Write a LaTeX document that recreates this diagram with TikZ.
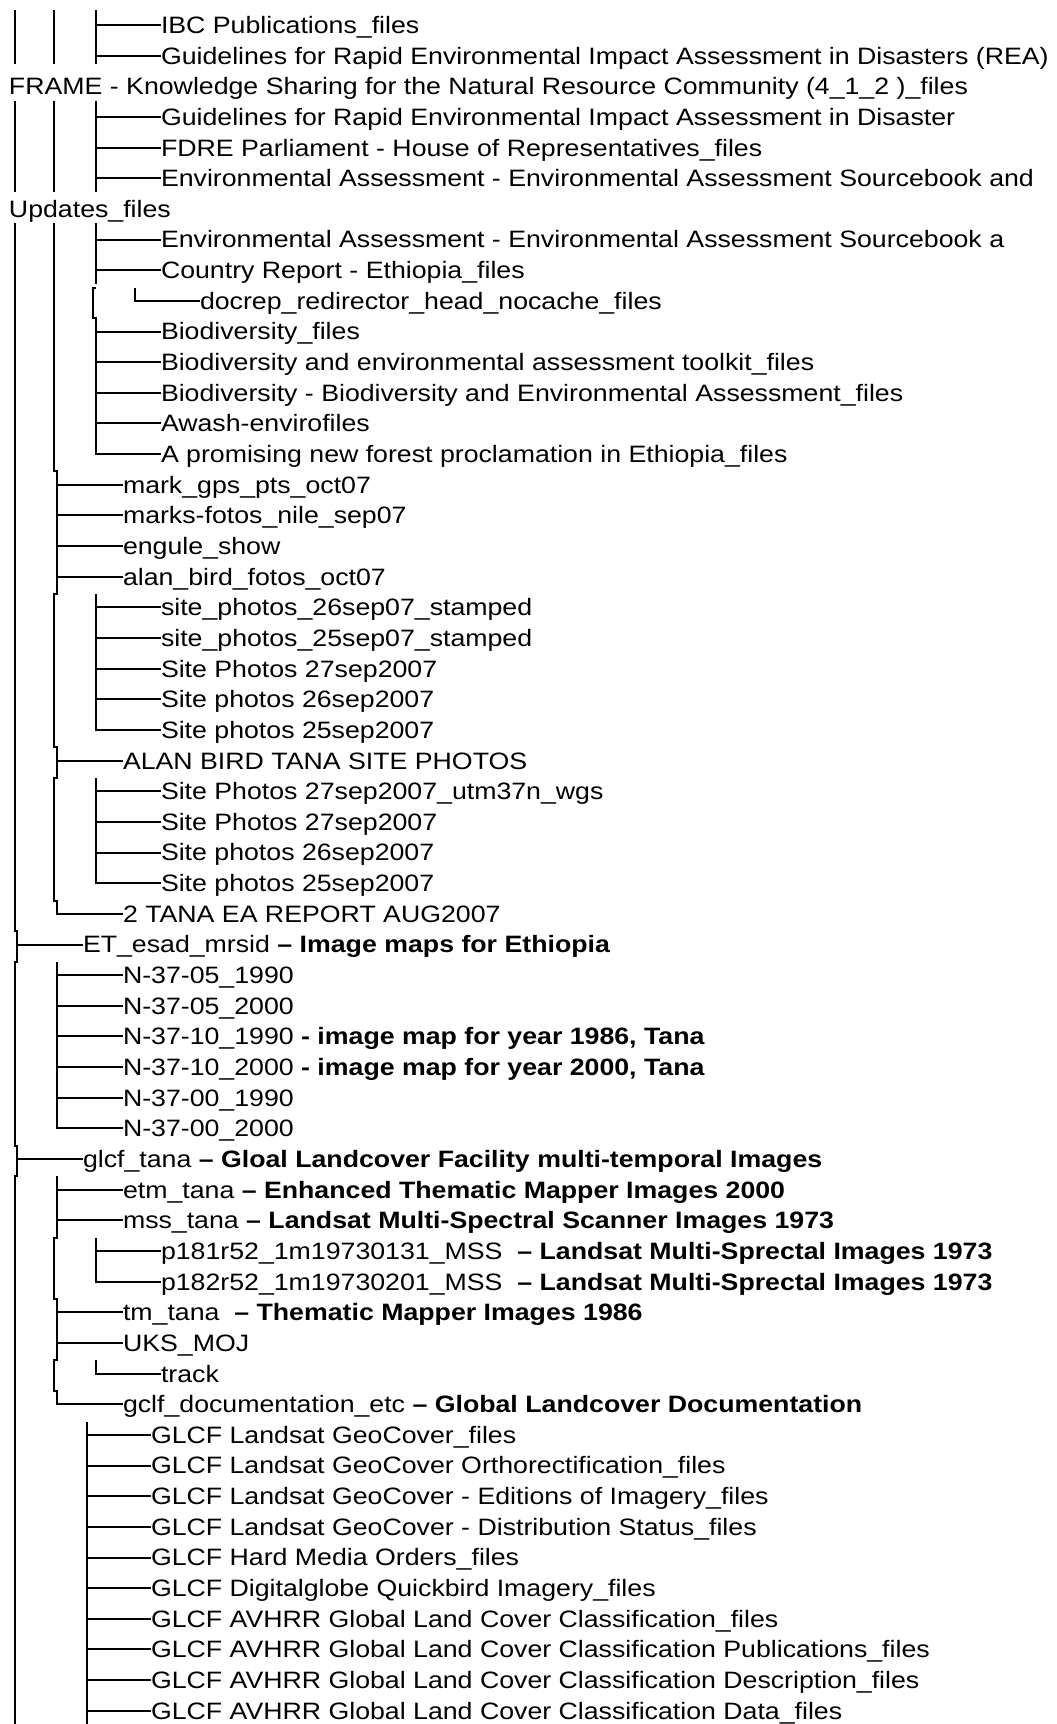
\documentclass[tikz,border=0pt]{standalone}
\usepackage{fontspec}
\setmainfont{Liberation Sans}[FakeStretch=1.127]
\newcommand\brHor[3]{\draw[tl] (#1,{hy(#2)}) -- (#3.west);}
\begin{document}
\begin{tikzpicture}[x=1pt,y=-1pt,
  declare function={hy(\i)=25+30.65*\i; rt(\i)=hy(\i)-13.3; rb(\i)=hy(\i)+17.35;},
  tl/.style={draw=black,line width=2pt},
  tx/.style={anchor=west,inner sep=0pt,outer sep=0pt,text height=16.8pt,text depth=0pt,font=\fontsize{23.7}{28}\selectfont}]
\fill[white] (0,0) rectangle (1057,1724);
\useasboundingbox (0,0) rectangle (1057,1724);
% text nodes
\node[tx] (n0) at (161,{hy(0)}) {IBC Publications\_files};
\node[tx] (n1) at (161,{hy(1)}) {Guidelines for Rapid Environmental Impact Assessment in Disasters (REA)};
\node[tx] (n2) at (9,{hy(2)}) {FRAME - Knowledge Sharing for the Natural Resource Community (4\_1\_2 )\_files};
\node[tx] (n3) at (161,{hy(3)}) {Guidelines for Rapid Environmental Impact Assessment in Disaster};
\node[tx] (n4) at (161,{hy(4)}) {FDRE Parliament - House of Representatives\_files};
\node[tx] (n5) at (161,{hy(5)}) {Environmental Assessment - Environmental Assessment Sourcebook and};
\node[tx] (n6) at (9,{hy(6)}) {Updates\_files};
\node[tx] (n7) at (161,{hy(7)}) {Environmental Assessment - Environmental Assessment Sourcebook a};
\node[tx] (n8) at (161,{hy(8)}) {Country Report - Ethiopia\_files};
\node[tx] (n9) at (200,{hy(9)}) {docrep\_redirector\_head\_nocache\_files};
\node[tx] (n10) at (161,{hy(10)}) {Biodiversity\_files};
\node[tx] (n11) at (161,{hy(11)}) {Biodiversity and environmental assessment toolkit\_files};
\node[tx] (n12) at (161,{hy(12)}) {Biodiversity - Biodiversity and Environmental Assessment\_files};
\node[tx] (n13) at (161,{hy(13)}) {Awash-envirofiles};
\node[tx] (n14) at (161,{hy(14)}) {A promising new forest proclamation in Ethiopia\_files};
\node[tx] (n15) at (123,{hy(15)}) {mark\_gps\_pts\_oct07};
\node[tx] (n16) at (123,{hy(16)}) {marks-fotos\_nile\_sep07};
\node[tx] (n17) at (123,{hy(17)}) {engule\_show};
\node[tx] (n18) at (123,{hy(18)}) {alan\_bird\_fotos\_oct07};
\node[tx] (n19) at (161,{hy(19)}) {site\_photos\_26sep07\_stamped};
\node[tx] (n20) at (161,{hy(20)}) {site\_photos\_25sep07\_stamped};
\node[tx] (n21) at (161,{hy(21)}) {Site Photos 27sep2007};
\node[tx] (n22) at (161,{hy(22)}) {Site photos 26sep2007};
\node[tx] (n23) at (161,{hy(23)}) {Site photos 25sep2007};
\node[tx] (n24) at (123,{hy(24)}) {ALAN BIRD TANA SITE PHOTOS};
\node[tx] (n25) at (161,{hy(25)}) {Site Photos 27sep2007\_utm37n\_wgs};
\node[tx] (n26) at (161,{hy(26)}) {Site Photos 27sep2007};
\node[tx] (n27) at (161,{hy(27)}) {Site photos 26sep2007};
\node[tx] (n28) at (161,{hy(28)}) {Site photos 25sep2007};
\node[tx] (n29) at (123,{hy(29)}) {2 TANA EA REPORT AUG2007};
\node[tx] (n30) at (83,{hy(30)}) {ET\_esad\_mrsid \textbf{– Image maps for Ethiopia}};
\node[tx] (n31) at (123,{hy(31)}) {N-37-05\_1990};
\node[tx] (n32) at (123,{hy(32)}) {N-37-05\_2000};
\node[tx] (n33) at (123,{hy(33)}) {N-37-10\_1990 \textbf{- image map for year 1986, Tana}};
\node[tx] (n34) at (123,{hy(34)}) {N-37-10\_2000 \textbf{- image map for year 2000, Tana}};
\node[tx] (n35) at (123,{hy(35)}) {N-37-00\_1990};
\node[tx] (n36) at (123,{hy(36)}) {N-37-00\_2000};
\node[tx] (n37) at (83,{hy(37)}) {glcf\_tana \textbf{– Gloal Landcover Facility multi-temporal Images}};
\node[tx] (n38) at (123,{hy(38)}) {etm\_tana \textbf{– Enhanced Thematic Mapper Images 2000}};
\node[tx] (n39) at (123,{hy(39)}) {mss\_tana \textbf{– Landsat Multi-Spectral Scanner Images 1973}};
\node[tx] (n40) at (161,{hy(40)}) {p181r52\_1m19730131\_MSS\ \ \textbf{– Landsat Multi-Sprectal Images 1973}};
\node[tx] (n41) at (161,{hy(41)}) {p182r52\_1m19730201\_MSS\ \ \textbf{– Landsat Multi-Sprectal Images 1973}};
\node[tx] (n42) at (123,{hy(42)}) {tm\_tana\ \ \textbf{– Thematic Mapper Images 1986}};
\node[tx] (n43) at (123,{hy(43)}) {UKS\_MOJ};
\node[tx] (n44) at (161,{hy(44)}) {track};
\node[tx] (n45) at (123,{hy(45)}) {gclf\_documentation\_etc \textbf{– Global Landcover Documentation}};
\node[tx] (n46) at (151,{hy(46)}) {GLCF Landsat GeoCover\_files};
\node[tx] (n47) at (151,{hy(47)}) {GLCF Landsat GeoCover Orthorectification\_files};
\node[tx] (n48) at (151,{hy(48)}) {GLCF Landsat GeoCover - Editions of Imagery\_files};
\node[tx] (n49) at (151,{hy(49)}) {GLCF Landsat GeoCover - Distribution Status\_files};
\node[tx] (n50) at (151,{hy(50)}) {GLCF Hard Media Orders\_files};
\node[tx] (n51) at (151,{hy(51)}) {GLCF Digitalglobe Quickbird Imagery\_files};
\node[tx] (n52) at (151,{hy(52)}) {GLCF AVHRR Global Land Cover Classification\_files};
\node[tx] (n53) at (151,{hy(53)}) {GLCF AVHRR Global Land Cover Classification Publications\_files};
\node[tx] (n54) at (151,{hy(54)}) {GLCF AVHRR Global Land Cover Classification Description\_files};
\node[tx] (n55) at (151,{hy(55)}) {GLCF AVHRR Global Land Cover Classification Data\_files};
% column A (level 0)
\draw[tl] (15,10) -- (15,64);
\draw[tl] (15,100.7) -- (15,191.7);
\draw[tl] (15,223) -- (15,{rb(29)}) -- (17,{rb(29)}) -- (17,{rb(30)}) -- (15,{rb(30)})
  -- (15,{rb(36)}) -- (17,{rb(36)}) -- (17,{rb(37)}) -- (15,{rb(37)}) -- (15,{rb(55)});
\brHor{17}{30}{n30} \brHor{17}{37}{n37}
% column B (level 1)
\draw[tl] (54,10) -- (54,64);
\draw[tl] (54,100.7) -- (54,191.7);
\draw[tl] (54,223) -- (54,{rb(14)}) -- (57,{rb(14)}) -- (57,{rb(18)}) -- (54,{rb(18)})
  -- (54,{rb(23)}) -- (57,{rb(23)}) -- (57,{rb(24)}) -- (54,{rb(24)}) -- (54,{rb(28)})
  -- (57,{rb(28)}) -- (57,{hy(29)}) -- (n29.west);
\foreach \r in {15,16,17,18,24}{\brHor{57}{\r}{n\r}}
\draw[tl] (57,{rt(31)}) -- (57,{hy(36)}) -- (n36.west);
\foreach \r in {31,...,35}{\brHor{57}{\r}{n\r}}
\draw[tl] (57,{rt(38)}) -- (57,{rb(39)}) -- (54,{rb(39)}) -- (54,{rb(41)}) -- (57,{rb(41)})
  -- (57,{rb(43)}) -- (54,{rb(43)}) -- (54,{rb(44)}) -- (57,{rb(44)}) -- (57,{hy(45)}) -- (n45.west);
\foreach \r in {38,39,42,43}{\brHor{57}{\r}{n\r}}
% column C (level 2)
\draw[tl] (96,10) -- (96,64);
\brHor{96}{0}{n0} \brHor{96}{1}{n1}
\draw[tl] (96,100.7) -- (96,191.7);
\foreach \r in {3,4,5}{\brHor{96}{\r}{n\r}}
\draw[tl] (96,223) -- (96,{rb(8)-4}) (96,{rt(9)}) -- (93,{rt(9)}) -- (93,{rb(9)}) -- (96,{rb(9)})
  -- (96,{hy(14)}) -- (n14.west);
\foreach \r in {7,8,10,11,12,13}{\brHor{96}{\r}{n\r}}
\draw[tl] (135,{rt(9)}) -- (135,{hy(9)}) -- (n9.west);
\draw[tl] (96,{rt(19)}) -- (96,{hy(23)}) -- (n23.west);
\foreach \r in {19,...,22}{\brHor{96}{\r}{n\r}}
\draw[tl] (96,{rt(25)}) -- (96,{hy(28)}) -- (n28.west);
\foreach \r in {25,26,27}{\brHor{96}{\r}{n\r}}
\draw[tl] (96,{rt(40)}) -- (96,{hy(41)}) -- (n41.west);
\brHor{96}{40}{n40}
\draw[tl] (96,{rt(44)}) -- (96,{hy(44)}) -- (n44.west);
% column E (GLCF files)
\draw[tl] (87,{rt(46)}) -- (87,{rb(55)});
\foreach \r in {46,...,55}{\brHor{87}{\r}{n\r}}
\end{tikzpicture}
\end{document}
